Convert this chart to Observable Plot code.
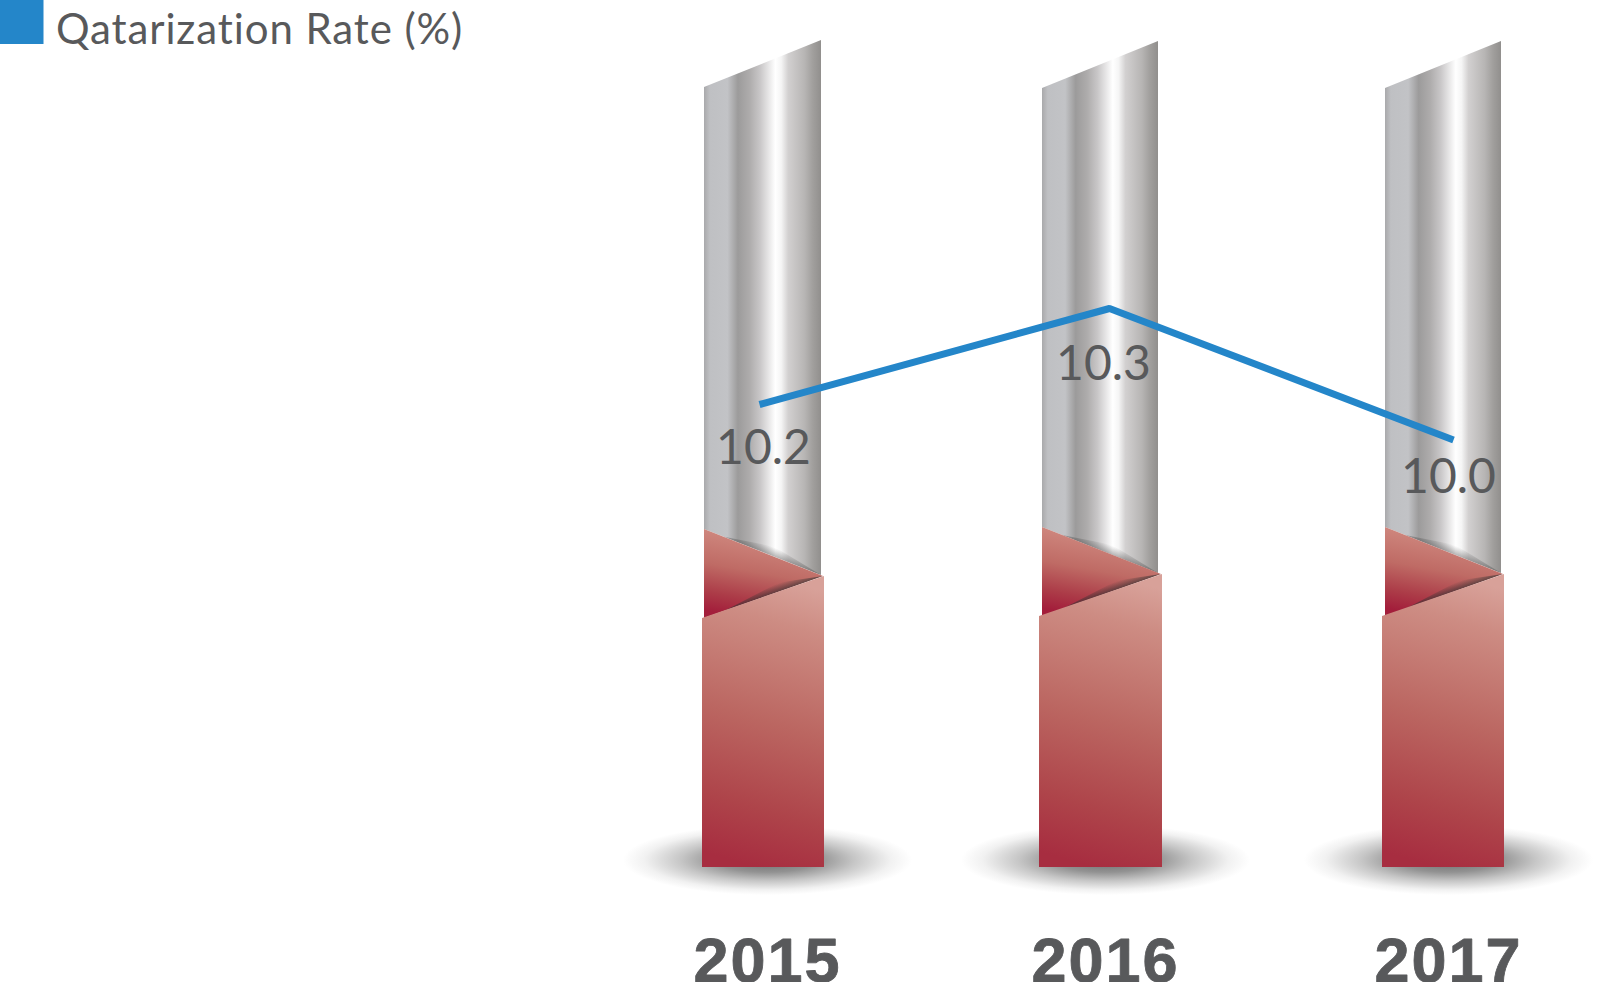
<!DOCTYPE html>
<html>
<head>
<meta charset="utf-8">
<script src="https://cdn.jsdelivr.net/npm/d3@7"></script>
<script src="https://cdn.jsdelivr.net/npm/@observablehq/plot@0.6"></script>
<style>
html,body{margin:0;padding:0;background:#fff;overflow:hidden}
svg{display:block}
.legend-text text{letter-spacing:.9px}
.year-text text{letter-spacing:2px}
</style>
</head>
<body>
<div id="chart"></div>
<script>
const years = [2015, 2016, 2017];
const rates = [10.2, 10.3, 10.0];
const rateLabels = ["10.2", "10.3", "10.0"];
const legendLabel = "Qatarization Rate (%)";

// Illustration geometry of each decorative column (not data)
const columnLeft   = [704, 1042, 1385];
const columnRight  = [821, 1158, 1501];
const columnTopL   = [87, 88, 88];
const columnTopR   = [40, 41, 41];
const foldTopL     = [529, 527, 527];
const foldRight    = [575, 573, 573];
const frontTopL    = [618, 616, 616];
const frontLeft    = [702, 1039, 1382];
const frontRight   = [824, 1162, 1504];
const groundY = 867;
const labelDx = [4, -6, -5];
const labelDy = [59, 71, 53];
const yearX   = [767, 1105, 1448];

const ink = "#58595b";
const blue = "#2486c9";

const px = (values) => ({value: values, scale: null});
const shape = (pts, fill) =>
  Plot.area(pts, {
    x1: px(pts.map(d => d[0])),
    y1: px(pts.map(d => d[1])),
    y2: px(pts.map(d => d[2])),
    fill, stroke: "none", curve: "linear"
  });

function gradient(tag, id, attrs, stops) {
  const NS = "http://www.w3.org/2000/svg";
  const g = document.createElementNS(NS, tag);
  g.setAttribute("id", id);
  for (const k in attrs) g.setAttribute(k, attrs[k]);
  for (const [o, c, a] of stops) {
    const s = document.createElementNS(NS, "stop");
    s.setAttribute("offset", o);
    s.setAttribute("stop-color", c);
    if (a !== undefined) s.setAttribute("stop-opacity", a);
    g.appendChild(s);
  }
  return g;
}
function defsMark() {
  const NS = "http://www.w3.org/2000/svg";
  const defs = document.createElementNS(NS, "defs");
  defs.appendChild(gradient("linearGradient", "steel", {x1:0,y1:0,x2:1,y2:0}, [
    [0,"#a9a9ab"],[.05,"#bfc0c3"],[.2,"#c2c3c6"],[.29,"#9c9b9b"],[.39,"#aeacac"],[.48,"#c9c7c8"],
    [.61,"#ffffff"],[.66,"#f5f5f5"],[.72,"#d2d0d0"],[.86,"#b7b5b4"],[.93,"#a19f9d"],[1,"#918f8d"]
  ]));
  defs.appendChild(gradient("linearGradient", "front", {x1:.56,y1:0,x2:.44,y2:1}, [
    [0,"#d8a199"],[.15,"#cd8c83"],[.5,"#bb6661"],[.8,"#ae444a"],[1,"#a72d40"]
  ]));
  defs.appendChild(gradient("linearGradient", "fold", {x1:.62,y1:0,x2:.38,y2:1}, [
    [0,"#d49187"],[.5,"#bf6b65"],[.8,"#ac3c48"],[1,"#a31e3b"]
  ]));
  defs.appendChild(gradient("linearGradient", "foldShade", {x1:.5,y1:.5,x2:.38,y2:.38}, [
    [0,"#333",.65],[1,"#333",0]
  ]));
  defs.appendChild(gradient("linearGradient", "steelShade", {x1:.5,y1:.5,x2:.62,y2:.38}, [
    [0,"#444",.4],[1,"#444",0]
  ]));
  defs.appendChild(gradient("radialGradient", "ground", {cx:.5,cy:.5,r:.5}, [
    [0,"#6a6a6a"],[.35,"#929292"],[.6,"#c6c6c6"],[.85,"#f1f1f1"],[1,"#ffffff"]
  ]));
  return defs;
}

const columnMarks = years.flatMap((year, i) => {
  const L = columnLeft[i], R = columnRight[i], FR = frontRight[i], FL = frontLeft[i];
  const edgeEnd = foldRight[i] + 1;
  const edgeAt = (x) => frontTopL[i] + (edgeEnd - frontTopL[i]) * (x - L) / (FR - 1 - L);
  const shadeL = L + 20, shadeM = L + 75;
  const topAt = (x) => foldTopL[i] + (foldRight[i] - foldTopL[i]) * (x - L) / (R - L);
  const steelL = L + 20, steelM = L + 70;
  return [
    Plot.rect([year], {
      x1: px([L + 58 - 139]), x2: px([L + 58 + 150]),
      y1: px([groundY - 42]), y2: px([groundY + 28]),
      fill: "url(#ground)"
    }),
    shape([[L, columnTopL[i], foldTopL[i]], [R, columnTopR[i], foldRight[i]]], "url(#steel)"),
    shape([[steelL, topAt(steelL), topAt(steelL)], [steelM, topAt(steelM) - 10, topAt(steelM)], [R, foldRight[i], foldRight[i]]], "url(#steelShade)"),
    shape([[L, foldTopL[i], frontTopL[i]], [FR - 1, edgeEnd, edgeEnd]], "url(#fold)"),
    shape([[shadeL, edgeAt(shadeL), edgeAt(shadeL)], [shadeM, edgeAt(shadeM) - 9, edgeAt(shadeM)], [FR - 1, edgeEnd, edgeEnd]], "url(#foldShade)"),
    shape([[FL, frontTopL[i], groundY], [FR, edgeEnd, groundY]], "url(#front)")
  ];
});

const labelMarks = years.map((year, i) =>
  Plot.text([i], {
    x: d => years[d],
    y: d => rates[d],
    text: d => rateLabels[d],
    dx: labelDx[i],
    dy: labelDy[i],
    lineAnchor: "bottom",
    textAnchor: "middle",
    fontFamily: "Lato",
    fontWeight: 400,
    fontSize: 48,
    fill: ink
  })
);

const plot = Plot.plot({
  width: 1599,
  height: 982,
  margin: 0,
  style: {background: "#fff", overflow: "hidden"},
  x: {type: "linear", domain: [2015, 2016, 2017], range: [759, 1109, 1453], axis: null},
  y: {type: "linear", domain: [10.0, 10.2, 10.3], range: [439.5, 404, 308], axis: null},
  marks: [
    defsMark,
    ...columnMarks,
    Plot.line(years.map((y, i) => ({y, r: rates[i]})), {
      x: "y", y: "r", stroke: blue, strokeWidth: 7,
      strokeLinecap: "butt", strokeLinejoin: "miter"
    }),
    ...labelMarks,
    Plot.rect([legendLabel], {
      x1: px([0]), x2: px([43.5]), y1: px([0]), y2: px([44]), fill: blue
    }),
    Plot.text([legendLabel], {
      x: px([55.5]), y: px([43.5]), text: d => d,
      textAnchor: "start", lineAnchor: "bottom",
      fontFamily: "Lato", fontWeight: 400, fontSize: 42, fill: ink,
      className: "legend-text"
    }),
    Plot.text(years, {
      x: px(yearX), y: px(yearX.map(() => 981.5)), text: d => String(d),
      textAnchor: "middle", lineAnchor: "bottom",
      fontFamily: "Liberation Sans", fontWeight: 700, fontSize: 63, fill: ink,
      stroke: ink, strokeWidth: 0.8,
      className: "year-text"
    })
  ]
});
document.getElementById("chart").appendChild(plot);
</script>
</body>
</html>
